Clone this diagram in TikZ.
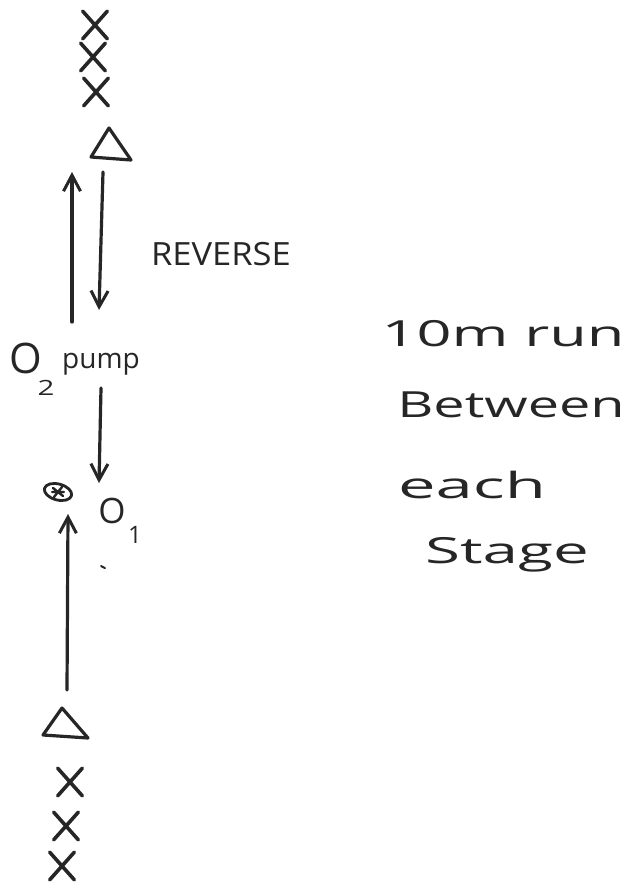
\documentclass[tikz,border=0pt]{standalone}
\usepackage{fontspec}
\setmainfont{Open Sans}
\usetikzlibrary{arrows.meta,shapes.misc}
\definecolor{inkc}{HTML}{262626}
\begin{document}
\begin{tikzpicture}[x=1pt,y=-1pt,
  ink/.style={draw=inkc, line width=3.2pt, line cap=round, line join=round},
  arr/.style={ink, -{Straight Barb[length=16pt,width=17pt,line width=3pt]}},
  xmark/.style={cross out, draw=inkc, line width=3.6pt, line cap=round,
                minimum width=21pt, minimum height=24pt, inner sep=0pt},
  word/.style={text=inkc, inner sep=0pt, anchor=base},
  big/.style={font=\fontsize{36}{36}\selectfont}
]
\useasboundingbox[fill=white] (0,0) rectangle (638,884);

% upper stack of crosses and its cone
\node[xmark] (xa) at (95,25) {};
\node[xmark] (xb) at (93,57) {};
\node[xmark] (xc) at (96,92) {};
\draw[ink] (91,157) -- (109,128) -- (131,160) -- cycle;
\coordinate (conetop) at (110,146);

% oxygen pump
\node[word, font=\fontsize{42}{42}\selectfont] (otwo) at (26,373) {O};
\node[word, font=\fontsize{21}{21}\selectfont, xscale=1.4] (two) at (46,395) {2};
\node[word, font=\fontsize{28}{28}\selectfont] (pump) at (101,368) {pump};

% reverse run between pump and upper cone
\coordinate (upa) at (72,322);
\coordinate (upb) at (72,172);
\coordinate (dna) at (103,172);
\coordinate (dnb) at (99,310);
\draw[arr] (upa) -- (upb);
\draw[arr] (dna) -- (dnb);
\node[word, font=\fontsize{32}{32}\selectfont, xscale=1.08] (rev) at (221,265) {REVERSE};

% pump down to first stage
\coordinate (pd) at (101,388);
\coordinate (pe) at (99,483);
\draw[arr] (pd) -- (pe);

% eye marker and first stage
\draw[ink, line width=2.8pt, rotate around={-15:(58,492)}] (58,492) ellipse (14pt and 8pt);
\draw[ink, line width=2.4pt] (53,488) -- (63,496) (62,487) -- (54,497) (52,492) -- (64,492);
\node[word, font=\fontsize{35}{35}\selectfont] (oone) at (112,523) {O};
\node[word, font=\fontsize{24}{24}\selectfont] (one) at (135,543) {1};
\draw[ink, line width=2pt] (101,566) -- (105,568);

% lower cone up to first stage
\coordinate (la) at (67,690);
\coordinate (lb) at (68,514);
\draw[arr] (la) -- (lb);
\draw[ink] (43,735) -- (62,708) -- (88,738) -- cycle;
\coordinate (conebot) at (64,727);

% lower stack of crosses
\node[xmark] (xd) at (70,782) {};
\node[xmark] (xe) at (66,826) {};
\node[xmark] (xf) at (62,866) {};

% note on the right
\node[word, big, xscale=1.7] (n1) at (503,346) {10m run};
\node[word, big, xscale=1.55] (n2) at (511,417) {Between};
\node[word, big, xscale=1.86] (n3) at (472,498) {each};
\node[word, big, xscale=1.77] (n4) at (507,563) {Stage};
\end{tikzpicture}
\end{document}
